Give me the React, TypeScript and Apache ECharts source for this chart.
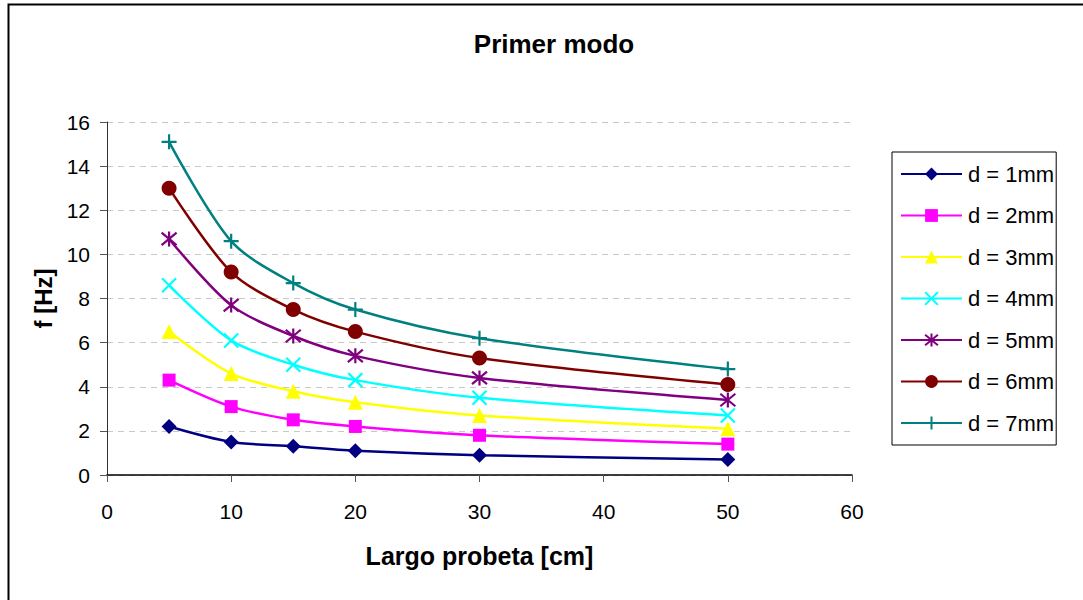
import React, { useEffect, useRef } from "react";
import * as echarts from "echarts";

// Specimen length [cm]
const lengths = [5, 10, 15, 20, 30, 50];

// First-mode frequency [Hz] for each diameter
const d1 = [2.2, 1.5, 1.3, 1.1, 0.9, 0.7];
const d2 = [4.3, 3.1, 2.5, 2.2, 1.8, 1.4];
const d3 = [6.5, 4.6, 3.8, 3.3, 2.7, 2.1];
const d4 = [8.6, 6.1, 5.0, 4.3, 3.5, 2.7];
const d5 = [10.7, 7.7, 6.3, 5.4, 4.4, 3.4];
const d6 = [13.0, 9.2, 7.5, 6.5, 5.3, 4.1];
const d7 = [15.1, 10.6, 8.7, 7.5, 6.2, 4.8];

const seriesNames = ["d = 1mm", "d = 2mm", "d = 3mm", "d = 4mm", "d = 5mm", "d = 6mm", "d = 7mm"];
const seriesValues = [d1, d2, d3, d4, d5, d6, d7];
const seriesColors = ["#000080", "#FF00FF", "#FFFF00", "#00FFFF", "#800080", "#800000", "#008080"];

const CROSS = "path://M0,0L10,10M10,0L0,10";
const STAR = "path://M0,0L10,10M10,0L0,10M5,-1L5,11";
const PLUS = "path://M5,0L5,10M0,5L10,5";

const symbols = ["diamond", "rect", "triangle", CROSS, STAR, "circle", PLUS];
const symbolSizes = [15, 13, 15, 14, 15, 15, 15];
const strokeOnly = [false, false, false, true, true, false, true];

const FONT = "Liberation Sans, Arial, sans-serif";

export default function App() {
  const ref = useRef<HTMLDivElement>(null);

  useEffect(() => {
    if (!ref.current) return;
    const chart = echarts.init(ref.current, undefined, { renderer: "svg" });

    const series = seriesValues.map((vals, i) => ({
      name: seriesNames[i],
      type: "line",
      data: lengths.map((x, j) => [x, vals[j]]),
      smooth: 0.3,
      symbol: symbols[i],
      symbolSize: symbolSizes[i],
      showSymbol: true,
      z: 2 + i,
      lineStyle: { color: seriesColors[i], width: 2.5 },
      itemStyle: strokeOnly[i]
        ? { color: "none", borderColor: seriesColors[i], borderWidth: 2.2 }
        : { color: seriesColors[i], borderWidth: 0 },
    }));

    chart.setOption({
      animation: false,
      backgroundColor: "#ffffff",
      textStyle: { fontFamily: FONT },
      title: {
        text: "Primer modo",
        left: 549,
        top: 26,
        textAlign: "center",
        textStyle: { fontFamily: FONT, fontSize: 26, fontWeight: "bold", color: "#000" },
      },
      legend: {
        orient: "vertical",
        left: 892,
        top: 152,
        padding: [11, 2, 11, 8],
        itemGap: 19.5,
        itemWidth: 61,
        itemHeight: 16,
        borderColor: "#000",
        borderWidth: 1,
        textStyle: { fontFamily: FONT, fontSize: 22, lineHeight: 22, color: "#000", padding: [0, 0, 0, 1] },
        data: seriesNames,
      },
      grid: { left: 107, right: 231, top: 122, bottom: 125, containLabel: false },
      xAxis: {
        type: "value",
        min: 0,
        max: 60,
        interval: 10,
        name: "Largo probeta [cm]",
        nameLocation: "middle",
        nameGap: 68,
        nameTextStyle: { fontFamily: FONT, fontSize: 25, fontWeight: "bold", color: "#000" },
        axisLine: { lineStyle: { color: "#000", width: 1.5 } },
        axisTick: { show: true, inside: false, length: 7, lineStyle: { color: "#555", width: 1 } },
        axisLabel: { margin: 26, fontFamily: FONT, fontSize: 21, color: "#000" },
        splitLine: { show: false },
      },
      yAxis: {
        type: "value",
        min: 0,
        max: 16,
        interval: 2,
        name: "f [Hz]",
        nameLocation: "middle",
        nameGap: 51,
        nameTextStyle: { fontFamily: FONT, fontSize: 24, fontWeight: "bold", color: "#000" },
        axisLine: { show: true, lineStyle: { color: "#333", width: 1 } },
        axisTick: { show: true, inside: false, length: 7, lineStyle: { color: "#555", width: 1 } },
        axisLabel: { margin: 17, fontFamily: FONT, fontSize: 21, color: "#000" },
        splitLine: { show: true, lineStyle: { color: "#c8c8c8", type: [6, 5], width: 1 } },
      },
      graphic: [
        {
          type: "rect",
          silent: true,
          shape: { x: 8.5, y: 4.5, width: 1200, height: 700 },
          style: { fill: "none", stroke: "#000", lineWidth: 2 },
        },
      ],
      series,
    });

    return () => chart.dispose();
  }, []);

  return (
    <div
      ref={ref}
      style={{ position: "fixed", left: 0, top: 0, width: 1083, height: 600 }}
    />
  );
}
